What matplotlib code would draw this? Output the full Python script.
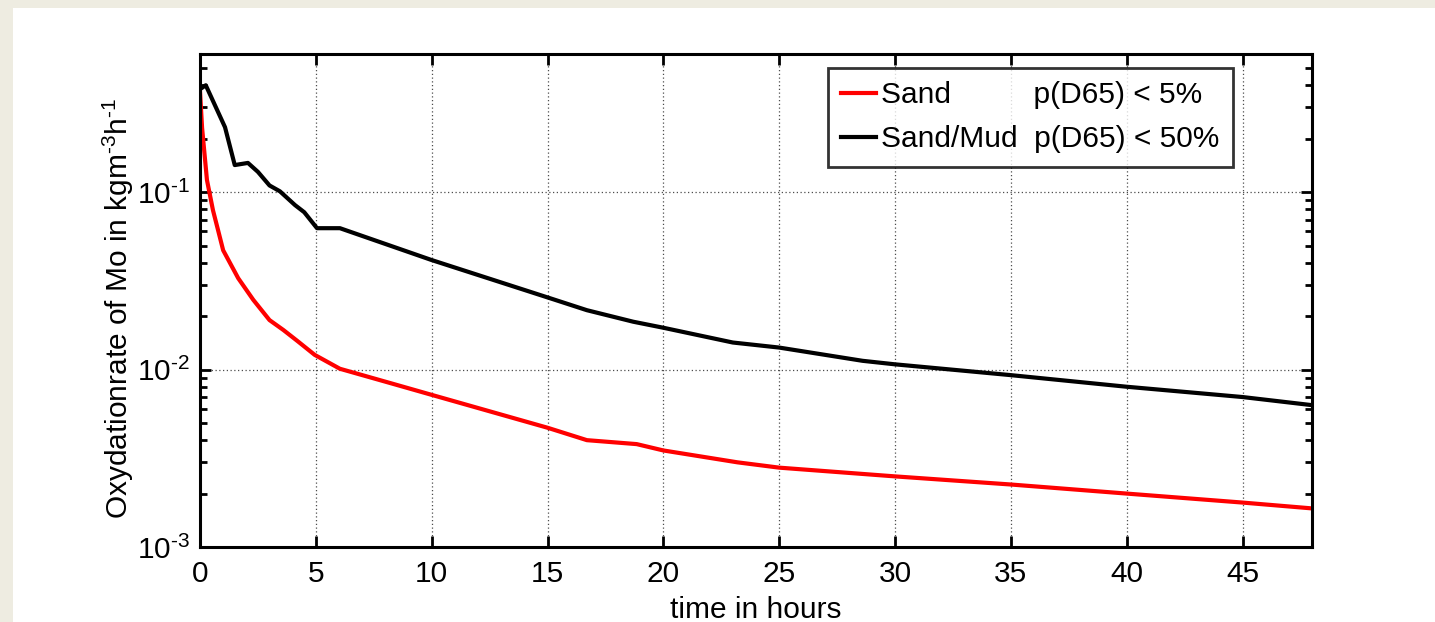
import matplotlib
matplotlib.use("Agg")
import matplotlib.pyplot as plt
from matplotlib.patches import Rectangle
from matplotlib.ticker import LogLocator, FixedLocator, NullFormatter, FuncFormatter
import numpy as np

plt.rcParams['font.family'] = ['Liberation Sans', 'DejaVu Sans']
plt.rcParams['mathtext.fontset'] = 'custom'
plt.rcParams['mathtext.rm'] = 'Liberation Sans'
plt.rcParams['mathtext.default'] = 'regular'

# Sand, p(D65) < 5%
t_sand = [0, 0.09, 0.3, 0.56, 0.78, 1.0, 1.65, 2.3, 3.0, 3.6, 4.2, 4.95, 6.04, 8.2,
          10, 15, 16.7, 18.85, 20, 23.2, 25, 30, 35, 40, 45, 48]
v_sand = [0.37, 0.23, 0.117, 0.079, 0.061, 0.047, 0.0327, 0.0247, 0.019, 0.0167, 0.0145,
          0.0121, 0.0101, 0.0084, 0.0072, 0.0047, 0.0040, 0.0038, 0.0035, 0.0030, 0.0028,
          0.0025, 0.00225, 0.0020, 0.00178, 0.00165]

# Sand/Mud, p(D65) < 50%
t_mud = [0, 0.25, 1.08, 1.5, 2.07, 2.5, 3.0, 3.45, 4.1, 4.5, 5.05, 6.04, 10, 15, 16.7,
         18.7, 20, 23, 25, 28.6, 30, 35, 40, 45, 48]
v_mud = [0.38, 0.40, 0.232, 0.142, 0.146, 0.130, 0.109, 0.101, 0.0845, 0.077, 0.0626,
         0.0626, 0.0414, 0.0255, 0.0216, 0.0186, 0.0172, 0.0142, 0.0133, 0.0112, 0.0107,
         0.0093, 0.0080, 0.0070, 0.0063]

labels = ['Sand' + ' ' * 10 + 'p(D65) < 5%', 'Sand/Mud  p(D65) < 50%']
xticks = [0, 5, 10, 15, 20, 25, 30, 35, 40, 45]
fs = 21.5


def pow10(v, pos):
    e = int(round(np.log10(v)))
    sign = r'\text{-}' if e < 0 else ''
    return r'10$^{%s%d}$' % (sign, abs(e))


fig = plt.figure(figsize=(14.35, 6.22), dpi=100)
fig.patch.set_facecolor('#EEECE1')
fig.patches.append(Rectangle((13 / 1435, 0), 1, (622 - 8) / 622, transform=fig.transFigure,
                             facecolor='white', edgecolor='none', zorder=-5))

ax = fig.add_axes([200 / 1435, 75 / 622, 1112 / 1435, 493 / 622])
ax.set_zorder(1)
ax.plot(t_sand, v_sand, color='red', lw=3, label=labels[0])
ax.plot(t_mud, v_mud, color='black', lw=3, label=labels[1])

ax.set_yscale('log')
ax.set_xlim(0, 48)
ax.set_ylim(1e-3, 0.6)
ax.xaxis.set_major_locator(FixedLocator(xticks))
ax.yaxis.set_major_locator(LogLocator(base=10))
ax.yaxis.set_major_formatter(FuncFormatter(pow10))
ax.yaxis.set_minor_locator(LogLocator(base=10, subs=range(2, 10)))
ax.yaxis.set_minor_formatter(NullFormatter())

ax.grid(True, which='major', linestyle=(0, (1, 2)), color='0.3', lw=0.9)
ax.tick_params(which='both', direction='in', top=True, right=True, labelsize=fs, width=2)
ax.tick_params(which='major', length=8)
ax.tick_params(which='minor', length=5)
ax.tick_params(axis='x', which='major', pad=9)
ax.tick_params(axis='y', which='major', pad=7)
for s in ax.spines.values():
    s.set_linewidth(2.2)

ax.set_xlabel('time in hours', fontsize=fs)
ax.set_ylabel(r'Oxydationrate of Mo in kgm$^{\text{-}3}$h$^{\text{-}1}$', fontsize=fs)
ax.xaxis.set_label_coords(0.5, -0.099)
ax.yaxis.set_label_coords(-0.058, 0.485)

leg = ax.legend(loc='upper right', bbox_to_anchor=(1233 / 1435, 1 - 68 / 622),
                bbox_transform=fig.transFigure, fontsize=fs, frameon=True, fancybox=False,
                handlelength=1.17, handletextpad=0.17, borderpad=0.45, labelspacing=0.53,
                borderaxespad=0)
leg.get_frame().set_edgecolor('black')
leg.get_frame().set_linewidth(2)

fig.savefig('out.png', dpi=100, facecolor=fig.get_facecolor())
